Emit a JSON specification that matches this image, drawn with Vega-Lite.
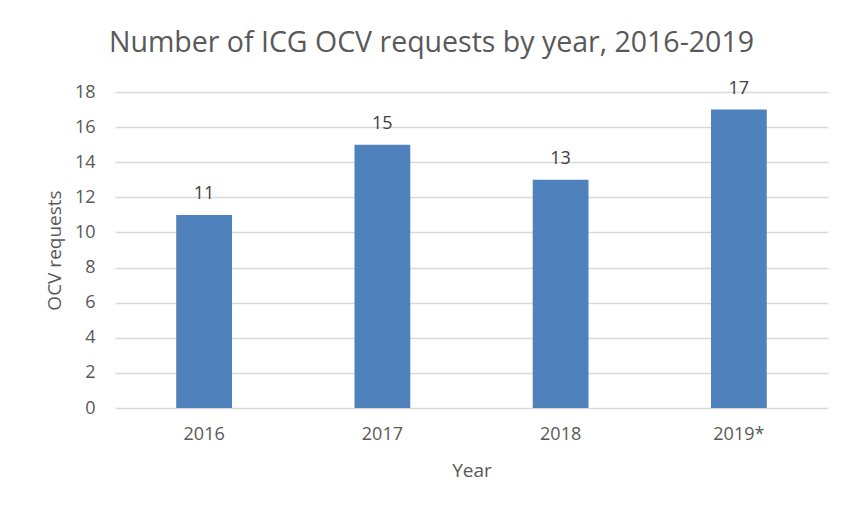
{
  "$schema": "https://vega.github.io/schema/vega-lite/v6.json",
  "autosize": "none",
  "width": 713,
  "height": 316,
  "padding": {"left": 115, "top": 92, "right": 18, "bottom": 101},
  "background": "white",
  "title": {
    "text": "Number of ICG OCV requests by year, 2016-2019",
    "anchor": "middle",
    "dx": -40,
    "offset": 22,
    "font": "Open Sans",
    "fontSize": 28.5,
    "fontWeight": "normal",
    "color": "#595959"
  },
  "data": {
    "values": [
      {"year": "2016", "requests": 11},
      {"year": "2017", "requests": 15},
      {"year": "2018", "requests": 13},
      {"year": "2019*", "requests": 17}
    ]
  },
  "config": {
    "view": {"stroke": null},
    "font": "Open Sans",
    "axis": {
      "labelColor": "#595959",
      "titleColor": "#595959",
      "labelFont": "Open Sans",
      "titleFont": "Open Sans",
      "labelFontSize": 18,
      "titleFontSize": 19,
      "titleFontWeight": "normal",
      "ticks": false,
      "gridColor": "#d9d9d9",
      "gridWidth": 1.3
    }
  },
  "encoding": {
    "x": {
      "field": "year",
      "type": "nominal",
      "sort": null,
      "scale": {"paddingInner": 0.687, "paddingOuter": 0.3435},
      "axis": {
        "title": "Year",
        "labelAngle": 0,
        "labelPadding": 17,
        "titlePadding": 18,
        "domain": false,
        "grid": false
      }
    },
    "y": {
      "field": "requests",
      "type": "quantitative",
      "scale": {"domain": [0, 18]},
      "axis": {
        "title": "OCV requests",
        "values": [0, 2, 4, 6, 8, 10, 12, 14, 16, 18],
        "labelPadding": 20,
        "titlePadding": 10,
        "domain": false
      }
    }
  },
  "layer": [
    {"mark": {"type": "bar", "color": "#4f81bd"}},
    {
      "mark": {
        "type": "text",
        "baseline": "alphabetic",
        "dy": -16,
        "fontSize": 18,
        "color": "#404040",
        "font": "Open Sans"
      },
      "encoding": {"text": {"field": "requests", "type": "quantitative"}}
    }
  ]
}
